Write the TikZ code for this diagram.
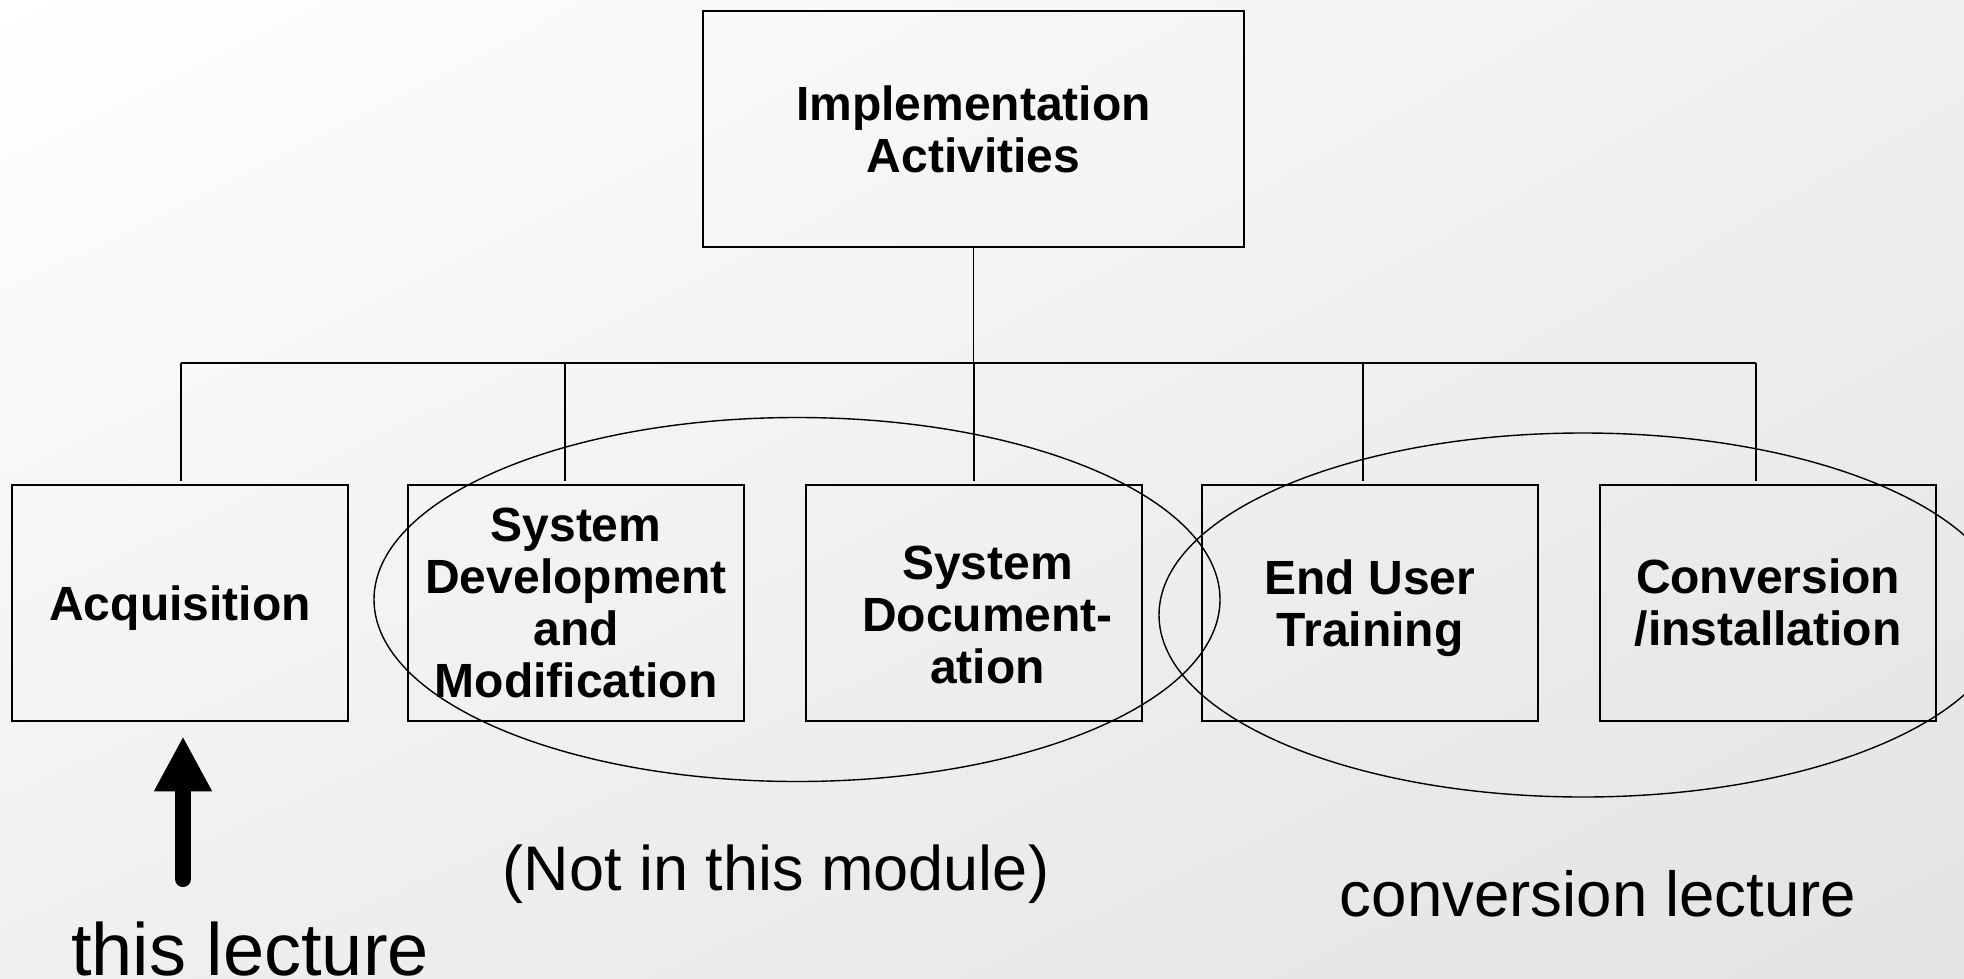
\documentclass[tikz,border=0pt]{standalone}
\usepackage{fontspec}
\setmainfont{Liberation Sans}
\usetikzlibrary{arrows.meta}
\usetikzlibrary{shadings}

\tikzset{
  actbox/.style={draw,line width=0.8pt,minimum width=168pt,minimum height=118pt,
    inner sep=0pt,align=center,font=\fontsize{24}{26}\selectfont\bfseries},
  acttext/.style={inner sep=0pt,align=center,font=\fontsize{24}{26}\selectfont\bfseries},
  treeline/.style={line width=0.8pt},
  groupring/.style={line width=0.7pt},
  note/.style={inner sep=0pt,anchor=base,font=\fontsize{31.5}{36}\selectfont},
  bigarrow/.style={line width=8pt,line cap=round,-{Triangle[length=27.5pt,width=27pt]}}
}

\begin{document}
\begin{tikzpicture}[x=0.5pt,y=-0.5pt]
        \useasboundingbox (0,0) rectangle (1964,979);
        \shade[upper left=white,upper right=black!6,lower left=black!6,lower right=black!11]
          (0,0) rectangle (1964,979);
        % tree of boxes
        \node[actbox,minimum width=270.5pt] (impl) at (973.5,129) {Implementation\\Activities};
        \node[actbox,text depth=0pt] (acq) at (180,603) {Acquisition};
        \node[actbox] (dev) at (576,603) {System\\Development\\and\\Modification};
        \node[actbox] (doc) at (974,603) {};
        \node[acttext] (doctext) at ([xshift=6.75pt,yshift=-6pt]doc.center) {System\\Document-\\ation};
        \node[actbox,text depth=0pt] (train) at (1370,603) {End User\\Training};
        \node[actbox] (conv) at (1768,603) {Conversion\\/installation};
        \coordinate (bus) at (973.5,363);
        \draw[treeline] (impl.south) -- (impl.south |- bus);
        \draw[treeline] ([xshift=0.5pt]acq.north |- bus) -- ([xshift=-6pt]conv.north |- bus);
        \foreach \n/\dx in {acq/0.5,dev/-5.5,doc/0,train/-3.5,conv/-6} {
          \draw[treeline] ([xshift=\dx pt]\n.north |- bus) -- ([xshift=\dx pt,yshift=1.5pt]\n.north);
        }
        % groupings
        \begin{scope}
          \clip (0,0) rectangle (1964,979);
          \draw[groupring] (797,599.5) ellipse (211.5pt and 91pt);
          \draw[groupring] (1583,615) ellipse (212pt and 91pt);
        \end{scope}
        % notes
        \coordinate (tail) at (183,879);
        \draw[bigarrow,shorten >=7.25pt] (tail) -- (tail |- acq.south);
        \node[note,font=\fontsize{37}{42}\selectfont] (lecture) at (250,975) {this lecture};
        \node[note] (notmod) at (776,890) {(Not in this module)};
        \node[note,font=\fontsize{31.8}{36}\selectfont] (convlec) at (1598,916) {conversion lecture};
\end{tikzpicture}
\end{document}
